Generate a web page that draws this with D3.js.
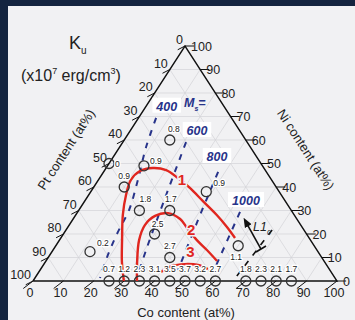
<!DOCTYPE html>
<html><head><meta charset="utf-8">
<script src="https://cdn.jsdelivr.net/npm/d3@7"></script>
<style>
body{margin:0;background:#14243f;}
svg{display:block;font-family:"Liberation Sans",Arial,sans-serif;}
</style></head>
<body><svg id="chart" width="355" height="320"></svg>
<script>
// Composition ticks (at%)
const tickValues = [0,10,20,30,40,50,60,70,80,90,100];

// Measured samples: Co and Ni content (at%), Pt is the balance; Ku in 1e7 erg/cm3
const sampleCo = [0, 12, 10, 15, 20, 30, 38, 30, 40, 12.5, 60,
                  25, 30, 35, 40, 45, 50, 55, 60, 70, 75, 80, 85];
const sampleNi = [50, 49, 40, 60, 30, 30, 38, 20, 10, 12.5, 15,
                  0, 0, 0, 0, 0, 0, 0, 0, 0, 0, 0, 0];
const sampleKu = ["0", "0.9", "0.9", "0.8", "1.8", "1.7", "0.9", "2.5", "2.7", "0.2", "1.1",
                  "0.7", "1.2", "2.3", "3.1", "3.5", "3.7", "3.2", "2.7", "1.8", "2.3", "2.1", "1.7"];

// Ku iso-contours, [Co, Ni]
const kuContour1 = [[29.9,0],[25.2,8.1],[20.6,17.4],[15.5,28.1],[12.3,36.6],[10.7,43.0],[11.8,46.8],
                    [15.4,48.1],[20.2,47.2],[25.8,43.8],[31.8,39.6],[38.9,34.0],[46.4,28.1],[52.3,23.0],[57.3,18.3]];
const kuContour2 = [[34.2,0],[30.2,8.1],[26.2,17.4],[24.9,23.8],[26.3,27.7],[30.0,28.9],[35.2,26.4],
                    [39.4,22.6],[45.2,17.4],[50.6,13.2],[56.3,8.5]];
const kuContour3 = [[40.2,3.8],[42.5,6.4],[46.4,7.2],[50.9,6.8],[55.0,5.1]];
const kuContourNames = ["1", "2", "3"];

// Saturation magnetisation iso-lines (emu/cm3), [Co, Ni]
const ms400  = [[5.8,69.4],[8.7,57.0],[13.0,43.0],[16.5,30.2],[17.5,20.9],[19.1,11.1],[21.4,1.3]];
const ms600  = [[20.8,59.1],[25.5,36.6],[30.6,13.2],[33.2,2.6]];
const ms800  = [[37.7,46.4],[41.3,26.0],[45.4,4.7]];
const ms1000 = [[53.4,29.4],[57.1,5.5]];
const msNames = ["400", "600", "800", "1000"];
const l10Boundary = [[67.8,21.7],[65.8,0]];
const l10Arrow = [[68.2,13.6],[57.5,25.1]];

const svg = d3.select("#chart");
svg.append("rect").attr("x",8).attr("y",6).attr("width",347).attr("height",314).attr("fill","#f1f1f3");

const x = d3.scaleLinear().domain([0,100]).range([33,337]);
const y = d3.scaleLinear().domain([0,100]).range([281,46]);
const P = (co, ni) => [x(co + ni/2), y(ni)];
const line = d3.line().x(d => P(d[0], d[1])[0]).y(d => P(d[0], d[1])[1]);
const curve = d3.line().curve(d3.curveCatmullRom).x(d => P(d[0], d[1])[0]).y(d => P(d[0], d[1])[1]);

// grid
const g = svg.append("g").attr("stroke","#d2d2d7").attr("stroke-width",0.7).attr("fill","none");
tickValues.slice(1,-1).forEach(k => {
  g.append("path").attr("d", line([[0,k],[100-k,k]]));
  g.append("path").attr("d", line([[k,0],[k,100-k]]));
  g.append("path").attr("d", line([[100-k,0],[0,100-k]]));
});

// frame
svg.append("path").attr("d", line([[0,0],[100,0],[0,100],[0,0]]) ).attr("fill","none")
  .attr("stroke","#111").attr("stroke-width",1.4);

// ticks and labels
const ax = svg.append("g").attr("font-size",12.5).attr("fill","#222");
tickValues.forEach(k => {
  // Co, bottom
  let a = P(k,0), b = P(k-1.6,-3.2);
  ax.append("line").attr("x1",a[0]).attr("y1",a[1]).attr("x2",b[0]).attr("y2",b[1]).attr("stroke","#111");
  ax.append("text").attr("x",a[0]-3).attr("y",a[1]+16).attr("text-anchor","middle").text(k);
  // Ni, right
  a = P(100-k,k); b = P(100-k+3,k);
  ax.append("line").attr("x1",a[0]).attr("y1",a[1]).attr("x2",b[0]).attr("y2",b[1]).attr("stroke","#111");
  ax.append("text").attr("x",a[0]+6).attr("y",a[1]+4.5).text(k);
  // Pt, left
  a = P(0,100-k); b = P(-1.6,100-k-1.6);
  ax.append("line").attr("x1",a[0]).attr("y1",a[1]).attr("x2",b[0]).attr("y2",b[1]).attr("stroke","#111");
  ax.append("text").attr("x",a[0]-2).attr("y",a[1]-2).attr("text-anchor","end").text(k);
});

// Ms lines
const msColor = "#27338a";
[ms400, ms600, ms800, ms1000].forEach(d => {
  svg.append("path").attr("d", curve(d)).attr("fill","none").attr("stroke",msColor)
    .attr("stroke-width",2).attr("stroke-dasharray","6,7");
});
svg.append("path").attr("d", line(l10Boundary)).attr("fill","none").attr("stroke","#111")
  .attr("stroke-width",1.6).attr("stroke-dasharray","6,7");

// Ku contours
const kuColor = "#e0261f";
[kuContour1, kuContour2, kuContour3].forEach(d => {
  svg.append("path").attr("d", curve(d)).attr("fill","none").attr("stroke",kuColor).attr("stroke-width",2.4);
});

// samples
const pts = svg.append("g");
sampleCo.forEach((co,i) => {
  const p = P(co, sampleNi[i]);
  pts.append("circle").attr("cx",p[0]).attr("cy",p[1]).attr("r",5).attr("fill","none")
    .attr("stroke","#333").attr("stroke-width",1.3);
});
const offs = {0:[6,3],1:[6,-2],2:[0,-8],3:[4,-8],4:[6,-9],5:[1,-9],6:[7,-6],7:[3,-7],8:[0,-9],9:[7,-6],10:[-2,14]};
sampleKu.forEach((t,i) => {
  const p = P(sampleCo[i], sampleNi[i]);
  const o = offs[i] || [0,-9];
  pts.append("text").attr("x",p[0]+o[0]).attr("y",p[1]+o[1]).attr("text-anchor", i===0||i===1||i===6||i===9 ? "start":"middle")
    .attr("font-size",8.5).attr("fill","#222").attr("stroke","#fff").attr("stroke-width",2.5)
    .attr("paint-order","stroke").text(t);
});

// contour names
const kuNamePos = [[25.8,43.8],[39.4,22.6],[44,13]];
kuContourNames.forEach((t,i) => {
  const p = P(kuNamePos[i][0], kuNamePos[i][1]);
  svg.append("text").attr("x",p[0]+4).attr("y",p[1]+7).attr("text-anchor","middle").attr("font-size",15)
    .attr("font-weight","bold").attr("fill",kuColor).attr("stroke","#f1f1f3").attr("stroke-width",3)
    .attr("paint-order","stroke").text(t);
});

// Ms names
const msNamePos = [[166.7,106.7],[197,131],[217,157],[246,201]];
msNames.forEach((t,i) => {
  const w = t.length*7.5+6;
  svg.append("rect").attr("x",msNamePos[i][0]-w/2).attr("y",msNamePos[i][1]-9).attr("width",w).attr("height",15).attr("fill","#fff");
  svg.append("text").attr("x",msNamePos[i][0]).attr("y",msNamePos[i][1]+4).attr("text-anchor","middle")
    .attr("font-size",12.5).attr("font-weight","bold").attr("font-style","italic").attr("fill",msColor).text(t);
});
const ms = svg.append("text").attr("x",184).attr("y",107).attr("font-size",12.5).attr("font-weight","bold")
  .attr("font-style","italic").attr("fill",msColor);
ms.append("tspan").text("M");
ms.append("tspan").attr("font-size",7).attr("dy",4).text("s");
ms.append("tspan").attr("dy",-4).text("=");

// L1_0 marker
const a0 = P(l10Arrow[0][0], l10Arrow[0][1]), a1 = P(l10Arrow[1][0], l10Arrow[1][1]);
svg.append("defs").append("marker").attr("id","ah").attr("viewBox","0 0 10 10").attr("refX",5).attr("refY",5)
  .attr("markerWidth",6).attr("markerHeight",6).attr("orient","auto")
  .append("path").attr("d","M0,1L10,5L0,9z").attr("fill","#111");
svg.append("line").attr("x1",a0[0]).attr("y1",a0[1]).attr("x2",a1[0]).attr("y2",a1[1])
  .attr("stroke","#111").attr("stroke-width",1.6).attr("marker-end","url(#ah)");
svg.append("line").attr("x1",a0[0]-5).attr("y1",a0[1]+3).attr("x2",a0[0]+5).attr("y2",a0[1]-3).attr("stroke","#111").attr("stroke-width",1.6);
const l1 = svg.append("text").attr("x",253).attr("y",231).attr("font-size",12.5).attr("font-style","italic").attr("fill","#222");
l1.append("tspan").text("L1");
l1.append("tspan").attr("font-size",7).attr("dy",4).text("0");

// axis titles
svg.append("text").attr("transform","translate(70,152) rotate(-57)").attr("text-anchor","middle")
  .attr("font-size",13).attr("fill","#222").text("Pt content (at%)");
svg.append("text").attr("transform","translate(302,152) rotate(57)").attr("text-anchor","middle")
  .attr("font-size",13).attr("fill","#222").text("Ni content (at%)");
svg.append("text").attr("x",186).attr("y",317).attr("text-anchor","middle")
  .attr("font-size",13).attr("fill","#222").text("Co content (at%)");

// Ku heading
const k = svg.append("text").attr("x",69).attr("y",49).attr("font-size",18).attr("fill","#222");
k.append("tspan").text("K");
k.append("tspan").attr("font-size",10).attr("dy",5).text("u");
const unit = svg.append("text").attr("x",21).attr("y",81).attr("font-size",16).attr("fill","#222");
unit.append("tspan").text("(x10");
unit.append("tspan").attr("font-size",9).attr("dy",-7).text("7");
unit.append("tspan").attr("dy",7).text(" erg/cm");
unit.append("tspan").attr("font-size",9).attr("dy",-7).text("3");
unit.append("tspan").attr("dy",7).text(")");
</script></body></html>
